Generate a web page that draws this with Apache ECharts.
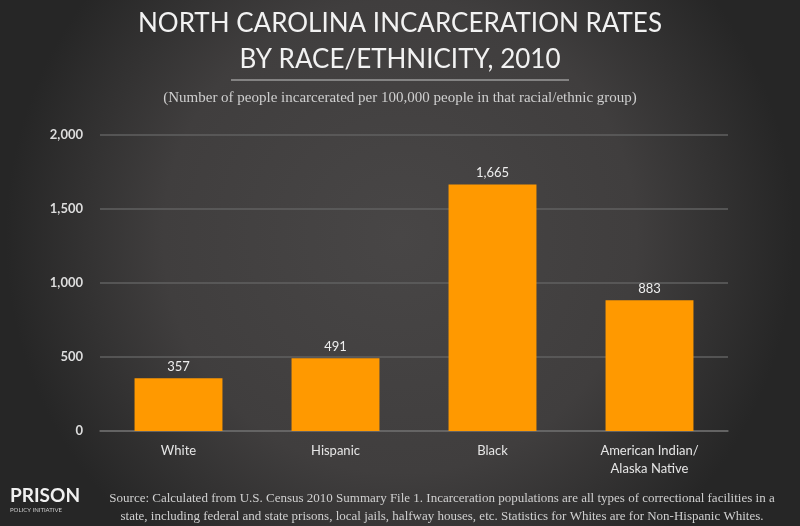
<!DOCTYPE html>
<html>
<head>
<meta charset="utf-8">
<script src="https://cdn.jsdelivr.net/npm/echarts@6/dist/echarts.min.js"></script>
<style>
  html, body { margin: 0; padding: 0; }
  #chart { width: 800px; height: 526px; }
</style>
</head>
<body>
<div id="chart"></div>
<script>
const categories = ['White', 'Hispanic', 'Black', 'American Indian/\nAlaska Native'];
const rates = [357, 491, 1665, 883];
const yTicks = [0, 500, 1000, 1500, 2000];

const chart = echarts.init(document.getElementById('chart'));

const sourceText =
  'Source: Calculated from U.S. Census 2010 Summary File 1. Incarceration populations are all types of correctional facilities in a\n' +
  'state, including federal and state prisons, local jails, halfway houses, etc. Statistics for Whites are for Non-Hispanic Whites.';

chart.setOption({
  backgroundColor: {
    type: 'radial', x: 0.5, y: 0.45, r: 0.75,
    colorStops: [
      { offset: 0, color: '#484646' },
      { offset: 0.6, color: '#403e3e' },
      { offset: 1, color: '#262626' }
    ]
  },
  title: [
    {
      text: 'NORTH CAROLINA INCARCERATION RATES\nBY RACE/ETHNICITY, 2010',
      left: 'center', top: 1,
      textStyle: { color: '#f2f2f2', fontFamily: 'Lato', fontWeight: 'normal', fontSize: 26, lineHeight: 36 }
    },
    {
      text: '(Number of people incarcerated per 100,000 people in that racial/ethnic group)',
      left: 'center', top: 86,
      textStyle: { color: '#cfcfcf', fontFamily: 'Liberation Serif', fontWeight: 'normal', fontSize: 15 }
    },
    {
      text: sourceText,
      left: 437, top: 485, textAlign: 'center',
      textStyle: { color: '#d0d0d0', fontFamily: 'Liberation Serif', fontWeight: 'normal', fontSize: 13, lineHeight: 18 }
    }
  ],
  graphic: [
    { type: 'line', shape: { x1: 231, y1: 80, x2: 569, y2: 80 }, style: { stroke: '#9a9a9a', lineWidth: 1.5 } },
    { type: 'text', left: 10, top: 486, style: { text: 'PRISON', fill: '#f0f0f0', font: 'bold 19px Lato' } },
    { type: 'text', left: 10, top: 507, style: { text: 'POLICY INITIATIVE', fill: '#cccccc', font: '6px Lato' } }
  ],
  grid: { left: 100, right: 72, top: 135, bottom: 95 },
  xAxis: {
    type: 'category',
    data: categories,
    axisLine: { lineStyle: { color: '#6a6a6a', width: 1.5 } },
    axisTick: { show: false },
    axisLabel: { color: '#e6e6e6', fontFamily: 'Lato', fontSize: 13, margin: 11, lineHeight: 18 }
  },
  yAxis: {
    type: 'value',
    min: yTicks[0], max: yTicks[yTicks.length - 1], interval: 500,
    axisLine: { show: false },
    axisTick: { show: false },
    splitLine: { lineStyle: { color: '#606060', width: 1.5 } },
    axisLabel: {
      color: '#dddddd', fontFamily: 'Lato', fontWeight: 'bold', fontSize: 13, margin: 17,
      formatter: (v) => v.toLocaleString('en-US')
    }
  },
  series: [
    {
      type: 'bar',
      data: rates,
      barWidth: '56%',
      itemStyle: { color: '#ff9900' },
      label: {
        show: true, position: 'top', distance: 5,
        color: '#eeeeee', fontFamily: 'Lato', fontSize: 13,
        formatter: (p) => p.value.toLocaleString('en-US')
      }
    }
  ]
});
</script>
</body>
</html>
